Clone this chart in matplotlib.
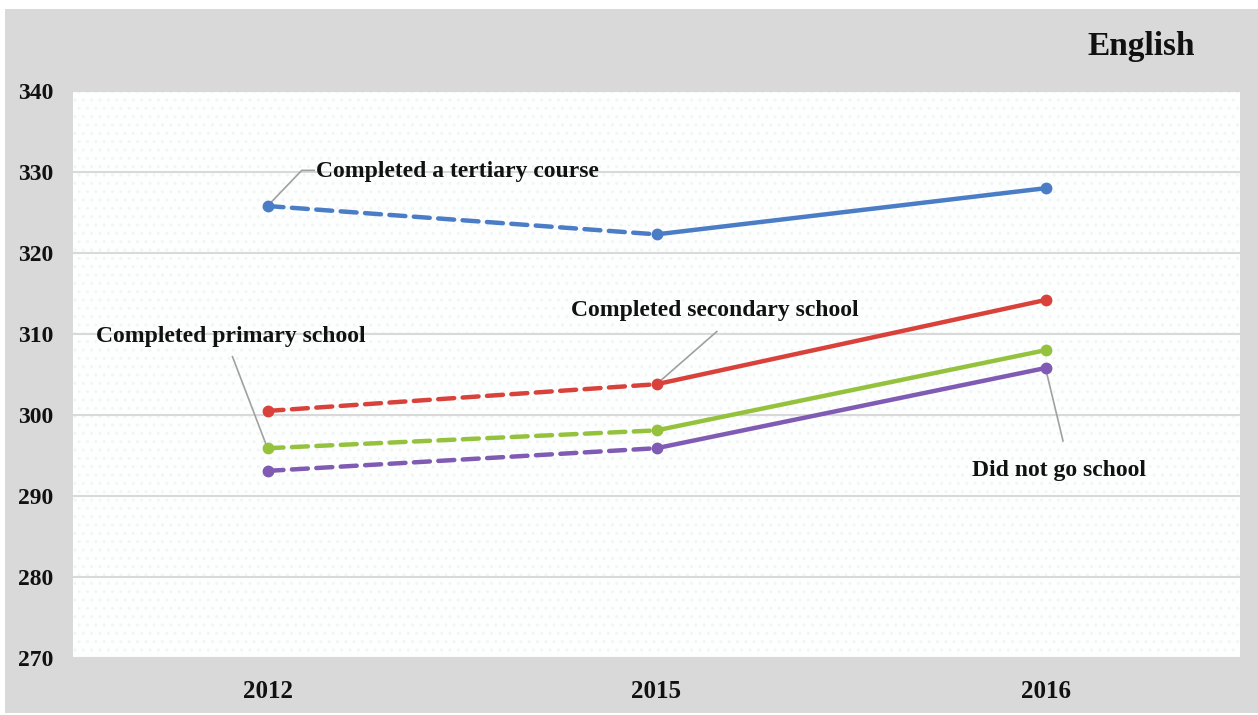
import matplotlib.pyplot as plt
from matplotlib.patches import Rectangle

years = ["2012", "2015", "2016"]

tertiary = [325.8, 322.3, 328.0]
secondary = [300.5, 303.8, 314.2]
primary = [295.9, 298.1, 308.0]
no_school = [293.1, 295.9, 305.8]

series = [
    ("Completed a tertiary course", tertiary, "#4A7DC6"),
    ("Completed secondary school", secondary, "#D9423A"),
    ("Completed primary school", primary, "#95C23D"),
    ("Did not go school", no_school, "#7F5BB3"),
]

# label text and where it sits (category index, value)
labels = [
    ("Completed a tertiary course", (0.125, 330.1)),
    ("Completed secondary school", (0.78, 312.9)),
    ("Completed primary school", (-0.44, 309.7)),
    ("Did not go school", (1.81, 293.2)),
]

font = ["Liberation Serif", "DejaVu Serif"]

fig = plt.figure(figsize=(12.58, 7.15), dpi=100, facecolor="white")
fig.add_artist(
    Rectangle((5 / 1258, 0.003), 1, 1 - 9 / 715 - 0.003,
              transform=fig.transFigure, facecolor="#D9D9D9",
              edgecolor="none", zorder=-5)
)

ax = fig.add_axes([73 / 1258, 1 - 658 / 715, (1240 - 73) / 1258, (658 - 91) / 715])
ax.set_zorder(1)
ax.set_facecolor("#FDFEFE")
ax.add_patch(Rectangle((0, 0), 1, 1, transform=ax.transAxes,
                       facecolor="none", edgecolor="#F3F4F4",
                       hatch="..", linewidth=0, zorder=0))

x = list(range(len(years)))

for name, vals, color in series:
    ax.plot(x[:2], vals[:2], color=color, linewidth=3.2,
            dashes=(3.6, 1.9), dash_capstyle="round", zorder=3)
    ax.plot(x[1:], vals[1:], color=color, linewidth=3.2,
            solid_capstyle="round", zorder=3)
    ax.plot(x, vals, "o", color=color, markersize=7.5, zorder=4)

for text, (tx, ty) in labels:
    ax.text(tx, ty, text, ha="left", va="center", fontsize=17,
            fontweight="bold", family=font, color="#111111", zorder=5)

# leader lines
ax.plot([0, 0.088, 0.12], [tertiary[0], 330.2, 330.2], color="#A0A0A0", lw=1.2, zorder=2)
ax.plot([1, 1.155], [secondary[1], 310.3], color="#A0A0A0", lw=1.2, zorder=2)
ax.plot([0, -0.09], [primary[0], 307.2], color="#A0A0A0", lw=1.2, zorder=2)
ax.plot([2, 2.045], [no_school[2], 296.8], color="#A0A0A0", lw=1.2, zorder=2)

ax.set_xlim(-0.5, 2.5)
ax.set_ylim(270, 340)
ax.set_yticks(range(270, 341, 10))
ax.set_xticks(x)
ax.set_xticklabels(years)

ax.grid(axis="y", color="#D9D9D9", linewidth=1.5, zorder=1)
ax.set_axisbelow(True)
for s in ax.spines.values():
    s.set_visible(False)

ax.tick_params(length=0, labelsize=18)
ax.tick_params(axis="y", pad=14, labelsize=17)
ax.tick_params(axis="x", pad=16)
for lab in ax.get_xticklabels() + ax.get_yticklabels():
    lab.set_fontweight("bold")
    lab.set_family(font)
    lab.set_color("#111111")

fig.text(1195 / 1258, 1 - 47 / 715, "English", ha="right", va="center",
         fontsize=24, fontweight="bold", family=font, color="#111111")

fig.savefig("out.png", dpi=100, facecolor=fig.get_facecolor())
